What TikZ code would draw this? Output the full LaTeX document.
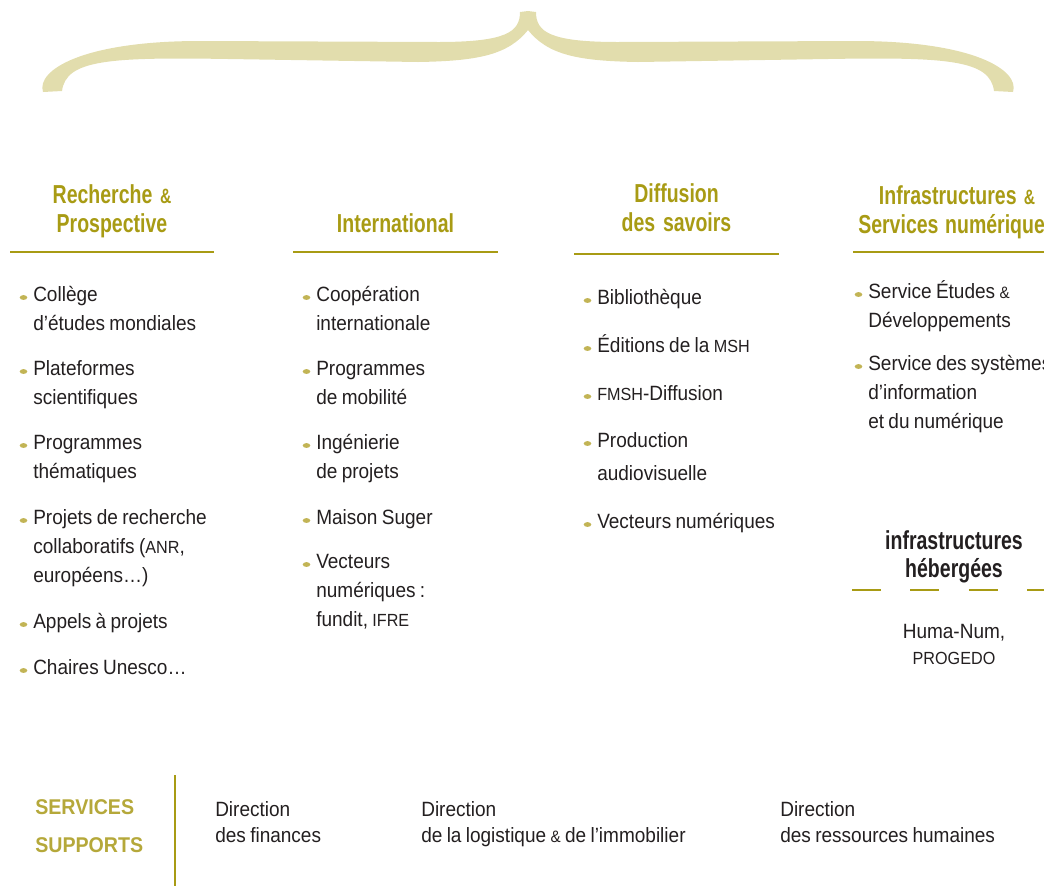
\documentclass[tikz,border=0pt]{standalone}
\usepackage{fontspec}
\setmainfont{Liberation Sans}
\newfontfamily\bodyfont[FakeStretch=0.92]{Liberation Sans}
\newfontfamily\headfont[FakeStretch=0.75]{Liberation Sans}

\definecolor{mshgold}{HTML}{A89B14}
\definecolor{mshpale}{HTML}{B5A83A}
\definecolor{dotgold}{HTML}{C2B455}
\definecolor{bracefill}{HTML}{E2DDAD}
\definecolor{ink}{HTML}{231F20}

\newcommand\amp{\scalebox{0.8}{\&}}
\newcommand\sig[1]{\scalebox{0.85}{#1}}
\newcommand\tightsp{\spaceskip=0.21em plus 0.05em minus 0.03em\relax}

\tikzset{
  heading/.style={font=\headfont\bfseries\fontsize{19.5}{21.75}\selectfont, text=mshgold,
    align=center, text width=220pt, anchor=base, inner sep=0pt, execute at begin node=\tightsp},
  entry/.style={font=\bodyfont\fontsize{15.5}{21.75}\selectfont, text=ink,
    align=left, text width=300pt, anchor=base west, inner sep=0pt, execute at begin node=\tightsp},
  rule/.style={draw=mshgold, line width=1.9pt},
  dot/.style={fill=dotgold},
}

\begin{document}
\begin{tikzpicture}[x=0.75pt, y=-0.75pt]   % 1 unit = 1 px of the plate
  \useasboundingbox (0,0) rectangle (1044,886);
  \clip (0,0) rectangle (1044,886);

  % the big brace
  \foreach \s in {1,-1}
    \fill[bracefill, shift={(528,0)}, xscale=\s]
      (0,11) -- (-8,12) .. controls (-8,32) and (-22,42) .. (-90,42)
      -- (-328,41) .. controls (-445,41) and (-492,70) .. (-485,92)
      -- (-466,91) .. controls (-462,60) and (-420,57) .. (-300,59)
      -- (-110,62) .. controls (-50,61) and (-20,55) .. (0,30) -- cycle;

  % the four poles
  \node[heading] (rp)  at (112,203)   {Recherche \amp\\Prospective};
  \node[heading] (int) at (395.5,232) {International};
  \node[heading] (ds)  at (676.5,202) {Diffusion\\des savoirs};
  \node[heading] (isn) at (957,204) {Infrastructures \amp\\Services numériques};

  \draw[rule] (10,252) -- (214,252);
  \draw[rule] (293,252) -- (498,252);
  \draw[rule] (574,254) -- (779,254);
  \draw[rule] (853,252) -- (1058,252);

  % Recherche & Prospective
  \node[entry] (c1a) at (33,301) {Collège\\d’études mondiales};
  \node[entry] (c1b) at (33,375) {Plateformes\\scientifiques};
  \node[entry] (c1c) at (33,449) {Programmes\\thématiques};
  \node[entry] (c1d) at (33,524) {Projets de recherche\\collaboratifs (\sig{ANR},\\européens…)};
  \node[entry] (c1e) at (33,628) {Appels à projets};
  \node[entry] (c1f) at (33,674) {Chaires Unesco…};

  % International
  \node[entry] (c2a) at (316,301) {Coopération\\internationale};
  \node[entry] (c2b) at (316,375) {Programmes\\de mobilité};
  \node[entry] (c2c) at (316,449) {Ingénierie\\de projets};
  \node[entry] (c2d) at (316,524) {Maison Suger};
  \node[entry] (c2e) at (316,568) {Vecteurs\\numériques :\\fundit, \sig{IFRE}};

  % Diffusion des savoirs
  \node[entry] (c3a) at (597,304) {Bibliothèque};
  \node[entry] (c3b) at (597,352) {Éditions de la \sig{MSH}};
  \node[entry] (c3c) at (597,400) {\sig{FMSH}-Diffusion};
  \node[entry, font=\bodyfont\fontsize{15.5}{24.75}\selectfont] (c3d) at (597,447) {Production\\audiovisuelle};
  \node[entry] (c3e) at (597,528) {Vecteurs numériques};

  % Infrastructures & Services numeriques
  \node[entry] (c4a) at (868,298) {Service Études \amp\\Développements};
  \node[entry] (c4b) at (868,370) {Service des systèmes\\d’information\\et du numérique};

  \foreach \n in {c1a,c1b,c1c,c1d,c1e,c1f,c2a,c2b,c2c,c2d,c2e,c3a,c3b,c3c,c3d,c3e,c4a,c4b}
    \fill[dot] (\n.base west) ++(-9.5,-3.5) ellipse (3.8 and 2.4);

  \node[heading, text=ink, font=\headfont\bfseries\fontsize{19.5}{21}\selectfont] (heb) at (954,549) {infrastructures\\hébergées};
  \draw[rule, line width=2.2pt, dash pattern=on 21.75pt off 22.1pt] (852,590) -- (1044,590);
  \node[entry, text width=200pt, anchor=base, align=center, font=\bodyfont\fontsize{15.5}{19.5}\selectfont] (hn) at (954,638) {Huma-Num,\\\sig{PROGEDO}};

  % services supports
  \node[entry, text=mshpale, font=\bodyfont\bfseries\fontsize{16}{28.5}\selectfont] (ss) at (35,814) {SERVICES\\SUPPORTS};
  \draw[rule] (175,775) -- (175,886);
  \node[entry, font=\bodyfont\fontsize{15.5}{19.5}\selectfont] (dfi) at (215,816) {Direction\\des finances};
  \node[entry, font=\bodyfont\fontsize{15.5}{19.5}\selectfont] (dli) at (421,816) {Direction\\de la logistique \amp{} de l’immobilier};
  \node[entry, font=\bodyfont\fontsize{15.5}{19.5}\selectfont] (drh) at (780,816) {Direction\\des ressources humaines};
\end{tikzpicture}
\end{document}
